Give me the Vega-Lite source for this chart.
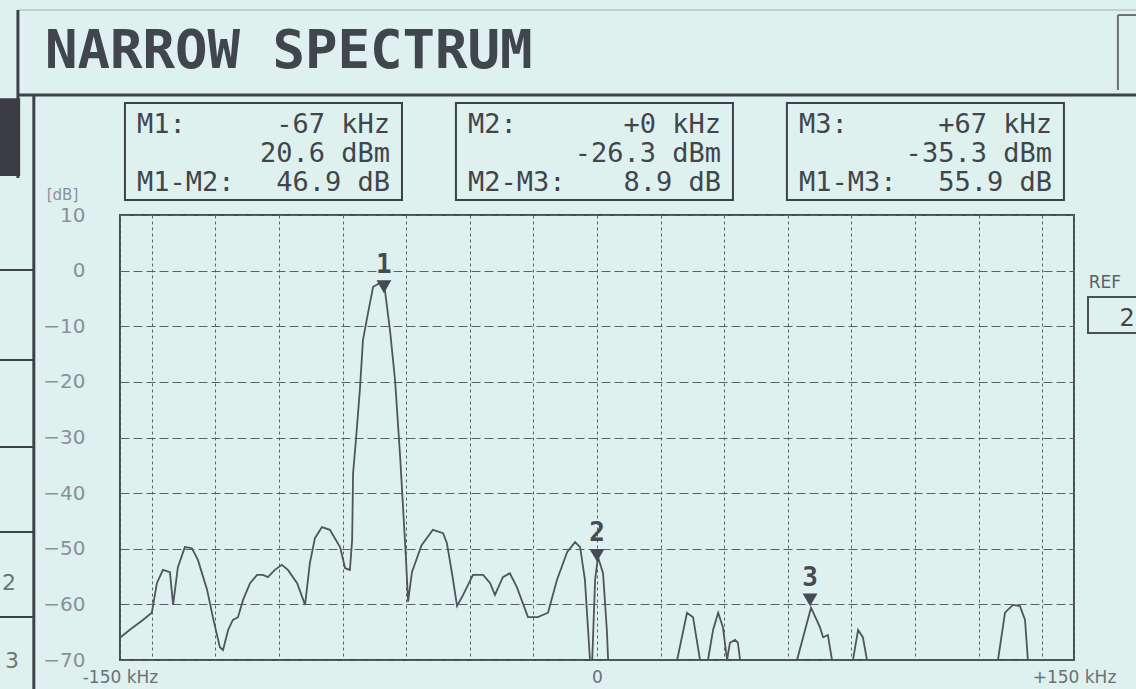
{
  "$schema": "https://vega.github.io/schema/vega-lite/v6.json",
  "width": 954,
  "height": 445,
  "autosize": {"type": "none"},
  "padding": {"left": 120, "top": 215, "right": 62, "bottom": 29},
  "background": "#dff1ef",
  "config": {
    "view": {"stroke": "#474b52", "strokeWidth": 2, "fill": "#dff1ef"}
  },
  "datasets": {
    "trace": [
      {"khz": -150, "db": -66},
      {"khz": -147, "db": -64.6},
      {"khz": -142.8, "db": -62.8},
      {"khz": -140, "db": -61.5},
      {"khz": -138.4, "db": -56.2},
      {"khz": -136.5, "db": -53.8},
      {"khz": -134.3, "db": -54.2},
      {"khz": -133.3, "db": -60.1},
      {"khz": -131.8, "db": -53.3},
      {"khz": -129.6, "db": -49.7},
      {"khz": -127.4, "db": -49.9},
      {"khz": -125.5, "db": -52.0},
      {"khz": -122.6, "db": -57.4},
      {"khz": -120.8, "db": -62.3},
      {"khz": -118.6, "db": -67.7},
      {"khz": -117.6, "db": -68.2},
      {"khz": -116, "db": -64.6},
      {"khz": -114.5, "db": -62.8},
      {"khz": -112.9, "db": -62.3},
      {"khz": -111.3, "db": -59.2},
      {"khz": -109.1, "db": -56.2},
      {"khz": -106.9, "db": -54.7},
      {"khz": -105, "db": -54.7},
      {"khz": -103.5, "db": -55.1},
      {"khz": -101.3, "db": -53.8},
      {"khz": -99.1, "db": -52.9},
      {"khz": -97.2, "db": -53.8},
      {"khz": -94.3, "db": -56.2},
      {"khz": -91.8, "db": -60.1},
      {"khz": -90.3, "db": -52.6},
      {"khz": -88.7, "db": -48.1},
      {"khz": -86.5, "db": -46.1},
      {"khz": -84.0, "db": -46.6},
      {"khz": -80.8, "db": -49.7},
      {"khz": -79.2, "db": -53.5},
      {"khz": -77.7, "db": -53.8},
      {"khz": -77.0, "db": -48.4},
      {"khz": -76.7, "db": -36.4},
      {"khz": -75.8, "db": -30.4},
      {"khz": -74.5, "db": -20.9},
      {"khz": -73.6, "db": -12.5},
      {"khz": -72.0, "db": -7.6},
      {"khz": -70.4, "db": -2.9},
      {"khz": -68.2, "db": -2.2},
      {"khz": -66.7, "db": -3.5},
      {"khz": -65.1, "db": -10.7},
      {"khz": -63.5, "db": -19.7},
      {"khz": -61.9, "db": -33.5},
      {"khz": -61.0, "db": -42.5},
      {"khz": -60.1, "db": -51.5},
      {"khz": -59.4, "db": -59.5},
      {"khz": -58.2, "db": -54.2},
      {"khz": -55.2, "db": -49.4},
      {"khz": -51.6, "db": -46.6},
      {"khz": -48.4, "db": -47.2},
      {"khz": -47.2, "db": -49.0},
      {"khz": -45.6, "db": -54.4},
      {"khz": -44.0, "db": -60.3},
      {"khz": -42.1, "db": -58.3},
      {"khz": -39.0, "db": -54.7},
      {"khz": -35.8, "db": -54.7},
      {"khz": -33.6, "db": -56.2},
      {"khz": -32.1, "db": -58.3},
      {"khz": -29.6, "db": -55.1},
      {"khz": -27.4, "db": -54.4},
      {"khz": -25.2, "db": -56.9},
      {"khz": -21.7, "db": -62.3},
      {"khz": -18.6, "db": -62.3},
      {"khz": -15.4, "db": -61.5},
      {"khz": -12.6, "db": -55.6},
      {"khz": -9.4, "db": -50.6},
      {"khz": -6.9, "db": -48.8},
      {"khz": -5.3, "db": -49.7},
      {"khz": -3.8, "db": -55.6},
      {"khz": -2.2, "db": -70},
      {"khz": -1.5, "db": -70},
      {"khz": -0.6, "db": -55.6},
      {"khz": 0.3, "db": -51.5},
      {"khz": 1.9, "db": -54.4},
      {"khz": 3.1, "db": -64.6},
      {"khz": 3.5, "db": -70},
      {"khz": 25.2, "db": -70},
      {"khz": 28.3, "db": -61.5},
      {"khz": 30.2, "db": -62.3},
      {"khz": 32.4, "db": -70},
      {"khz": 34.9, "db": -70},
      {"khz": 36.5, "db": -64.6},
      {"khz": 38.1, "db": -61.5},
      {"khz": 39.6, "db": -64.1},
      {"khz": 40.9, "db": -70},
      {"khz": 41.8, "db": -66.9},
      {"khz": 43.4, "db": -66.4},
      {"khz": 44.3, "db": -66.9},
      {"khz": 45.0, "db": -70},
      {"khz": 62.9, "db": -70},
      {"khz": 67.3, "db": -60.6},
      {"khz": 70.1, "db": -64.1},
      {"khz": 71.1, "db": -65.9},
      {"khz": 72.6, "db": -65.5},
      {"khz": 73.9, "db": -70},
      {"khz": 80.5, "db": -70},
      {"khz": 82.1, "db": -64.6},
      {"khz": 83.6, "db": -65.9},
      {"khz": 84.9, "db": -70},
      {"khz": 126.1, "db": -70},
      {"khz": 128.3, "db": -61.5},
      {"khz": 130.8, "db": -60.1},
      {"khz": 133, "db": -60.3},
      {"khz": 134.6, "db": -62.8},
      {"khz": 135.5, "db": -70},
      {"khz": 150, "db": -70}
    ],
    "markers": [
      {"id": "1", "khz": -67, "db": -2.9},
      {"id": "2", "khz": 0, "db": -51.2},
      {"id": "3", "khz": 67, "db": -59.2}
    ],
    "readouts": [
      {"marker": "M1", "tag": "M1:", "freq": "-67 kHz", "level": "20.6 dBm", "pair": "M1-M2:", "delta": "46.9 dB"},
      {"marker": "M2", "tag": "M2:", "freq": "+0 kHz", "level": "-26.3 dBm", "pair": "M2-M3:", "delta": "8.9 dB"},
      {"marker": "M3", "tag": "M3:", "freq": "+67 kHz", "level": "-35.3 dBm", "pair": "M1-M3:", "delta": "55.9 dB"}
    ]
  },
  "layer": [
    {
      "layer": [
        {
          "data": {"name": "trace"},
          "mark": {"type": "line", "color": "#50545b", "strokeWidth": 1.8},
          "encoding": {
            "x": {
              "field": "khz",
              "type": "quantitative",
              "scale": {"domain": [-150, 150], "nice": false, "zero": false},
              "axis": {
                "title": null,
                "values": [-150, -140, -120, -100, -80, -60, -40, -20, 0, 20, 40, 60, 80, 100, 120, 140, 150],
                "labelExpr": "datum.value == -150 ? '-150 kHz' : datum.value == 150 ? '+150 kHz' : datum.value == 0 ? '0' : ''",
                "labelFont": "DejaVu Sans",
                "labelFontSize": 17,
                "labelColor": "#6b7077",
                "labelPadding": 9,
                "labelBaseline": "top",
                "labelFlush": false,
                "labelOverlap": false,
                "ticks": false,
                "domain": false,
                "grid": true,
                "gridColor": "#5a6067",
                "gridDash": [3, 3],
                "gridWidth": 1
              }
            },
            "y": {
              "field": "db",
              "type": "quantitative",
              "scale": {"domain": [-70, 10], "nice": false, "zero": false},
              "axis": {
                "title": "[dB]",
                "titleAngle": 0,
                "titleX": -58,
                "titleY": -16,
                "titleAlign": "center",
                "titleBaseline": "alphabetic",
                "titleFont": "DejaVu Sans",
                "titleFontSize": 15,
                "titleFontWeight": "normal",
                "titleColor": "#8a9097",
                "values": [-70, -60, -50, -40, -30, -20, -10, 0, 10],
                "labelFont": "DejaVu Sans",
                "labelFontSize": 20,
                "labelColor": "#8a9097",
                "labelPadding": 35,
                "labelFlush": false,
                "labelOverlap": false,
                "ticks": false,
                "domain": false,
                "grid": true,
                "gridColor": "#5a6067",
                "gridDash": [9, 4],
                "gridWidth": 1
              }
            }
          }
        },
        {
          "data": {"name": "markers"},
          "mark": {"type": "point", "shape": "triangle-down", "filled": true, "size": 220, "color": "#464a51", "opacity": 1},
          "encoding": {
            "x": {"field": "khz", "type": "quantitative"},
            "y": {"field": "db", "type": "quantitative"}
          }
        },
        {
          "data": {"name": "markers"},
          "mark": {"type": "text", "font": "DejaVu Sans Mono", "fontSize": 26, "fontWeight": "bold", "color": "#464a51", "dy": -22, "baseline": "middle"},
          "encoding": {
            "x": {"field": "khz", "type": "quantitative"},
            "y": {"field": "db", "type": "quantitative"},
            "text": {"field": "id"}
          }
        },
        {
          "data": {"values": [{}]},
          "mark": {"type": "text", "font": "DejaVu Sans Mono", "fontSize": 54, "fontWeight": "bold", "color": "#41454c", "align": "left", "baseline": "alphabetic"},
          "encoding": {"x": {"datum": -173.6}, "y": {"datum": 36.43}, "text": {"value": "NARROW SPECTRUM"}}
        },
        {
          "data": {"values": [{}]},
          "mark": {"type": "rule", "color": "#b7c4c4", "strokeWidth": 1.5},
          "encoding": {"x": {"datum": -182.1}, "x2": {"datum": 170}, "y": {"datum": 46.85}}
        },
        {
          "data": {"values": [{}]},
          "mark": {"type": "rule", "color": "#3d4149", "strokeWidth": 3},
          "encoding": {"x": {"datum": -182.1}, "x2": {"datum": 170}, "y": {"datum": 31.57}}
        },
        {
          "data": {"values": [{}]},
          "mark": {"type": "rule", "color": "#3d4149", "strokeWidth": 3},
          "encoding": {"x": {"datum": -182.1}, "y": {"datum": 46.85}, "y2": {"datum": 16.65}}
        },
        {
          "data": {"values": [{}]},
          "mark": {"type": "rule", "color": "#3d4149", "strokeWidth": 3},
          "encoding": {"x": {"datum": -177.1}, "y": {"datum": 31.57}, "y2": {"datum": -76}}
        },
        {
          "data": {"values": [{}]},
          "mark": {"type": "rect", "color": "#3b3d42"},
          "encoding": {"x": {"datum": -188}, "x2": {"datum": -181.4}, "y": {"datum": 31.0}, "y2": {"datum": 17.0}}
        },
        {
          "data": {"values": [{}]},
          "mark": {"type": "rule", "color": "#3d4149", "strokeWidth": 2},
          "encoding": {"x": {"datum": -188}, "x2": {"datum": -177.1}, "y": {"datum": 0.11}}
        },
        {
          "data": {"values": [{}]},
          "mark": {"type": "rule", "color": "#3d4149", "strokeWidth": 2},
          "encoding": {"x": {"datum": -188}, "x2": {"datum": -177.1}, "y": {"datum": -16.07}}
        },
        {
          "data": {"values": [{}]},
          "mark": {"type": "rule", "color": "#3d4149", "strokeWidth": 2},
          "encoding": {"x": {"datum": -188}, "x2": {"datum": -177.1}, "y": {"datum": -31.71}}
        },
        {
          "data": {"values": [{}]},
          "mark": {"type": "rule", "color": "#3d4149", "strokeWidth": 2},
          "encoding": {"x": {"datum": -188}, "x2": {"datum": -177.1}, "y": {"datum": -46.99}}
        },
        {
          "data": {"values": [{}]},
          "mark": {"type": "rule", "color": "#3d4149", "strokeWidth": 2},
          "encoding": {"x": {"datum": -188}, "x2": {"datum": -177.1}, "y": {"datum": -62.28}}
        },
        {
          "data": {"values": [{}]},
          "mark": {"type": "text", "font": "DejaVu Sans", "fontSize": 22, "color": "#6f7378", "align": "left", "baseline": "alphabetic"},
          "encoding": {"x": {"datum": -187.1}, "y": {"datum": -57.4}, "text": {"value": "2"}}
        },
        {
          "data": {"values": [{}]},
          "mark": {"type": "text", "font": "DejaVu Sans", "fontSize": 22, "color": "#6f7378", "align": "left", "baseline": "alphabetic"},
          "encoding": {"x": {"datum": -186.2}, "y": {"datum": -71.4}, "text": {"value": "3"}}
        },
        {
          "data": {"values": [{}]},
          "mark": {"type": "rule", "color": "#6b7075", "strokeWidth": 2},
          "encoding": {"x": {"datum": 163.8}, "y": {"datum": 45.95}, "y2": {"datum": 32.47}}
        },
        {
          "data": {"values": [{}]},
          "mark": {"type": "rule", "color": "#6b7075", "strokeWidth": 2},
          "encoding": {"x": {"datum": 163.8}, "x2": {"datum": 171}, "y": {"datum": 45.95}}
        },
        {
          "data": {"values": [{}]},
          "mark": {"type": "text", "font": "DejaVu Sans", "fontSize": 17, "color": "#5b6068", "align": "left", "baseline": "alphabetic"},
          "encoding": {"x": {"datum": 154.6}, "y": {"datum": -3.1}, "text": {"value": "REF"}}
        },
        {
          "data": {"values": [{}]},
          "mark": {"type": "rect", "fill": "#dff1ef", "stroke": "#4a4e55", "strokeWidth": 2},
          "encoding": {"x": {"datum": 154.4}, "x2": {"datum": 172}, "y": {"datum": -4.74}, "y2": {"datum": -11.2}}
        },
        {
          "data": {"values": [{}]},
          "mark": {"type": "text", "font": "DejaVu Sans", "fontSize": 24, "color": "#41454c", "align": "right", "baseline": "alphabetic"},
          "encoding": {"x": {"datum": 169.1}, "y": {"datum": -10.0}, "text": {"value": "2"}}
        }
      ]
    },
    {
      "data": {"name": "readouts"},
      "encoding": {
        "x": {
          "field": "marker",
          "type": "nominal",
          "scale": {"type": "band", "paddingInner": 0.163, "paddingOuter": 0.0227, "align": 0.33},
          "axis": null
        }
      },
      "layer": [
        {
          "mark": {"type": "bar", "fill": "#dff1ef", "fillOpacity": 0, "stroke": "#3d4149", "strokeWidth": 2},
          "encoding": {"y": {"datum": 30.13}, "y2": {"datum": 12.7}}
        },
        {
          "mark": {"type": "text", "font": "DejaVu Sans Mono", "fontSize": 27, "color": "#41454c", "align": "left", "baseline": "alphabetic", "dx": 12},
          "encoding": {"x": {"field": "marker", "type": "nominal", "bandPosition": 0}, "y": {"datum": 24.74}, "text": {"field": "tag"}}
        },
        {
          "mark": {"type": "text", "font": "DejaVu Sans Mono", "fontSize": 27, "color": "#41454c", "align": "right", "baseline": "alphabetic", "dx": -12},
          "encoding": {"x": {"field": "marker", "type": "nominal", "bandPosition": 1}, "y": {"datum": 24.74}, "text": {"field": "freq"}}
        },
        {
          "mark": {"type": "text", "font": "DejaVu Sans Mono", "fontSize": 27, "color": "#41454c", "align": "right", "baseline": "alphabetic", "dx": -12},
          "encoding": {"x": {"field": "marker", "type": "nominal", "bandPosition": 1}, "y": {"datum": 19.53}, "text": {"field": "level"}}
        },
        {
          "mark": {"type": "text", "font": "DejaVu Sans Mono", "fontSize": 27, "color": "#41454c", "align": "left", "baseline": "alphabetic", "dx": 12},
          "encoding": {"x": {"field": "marker", "type": "nominal", "bandPosition": 0}, "y": {"datum": 14.31}, "text": {"field": "pair"}}
        },
        {
          "mark": {"type": "text", "font": "DejaVu Sans Mono", "fontSize": 27, "color": "#41454c", "align": "right", "baseline": "alphabetic", "dx": -12},
          "encoding": {"x": {"field": "marker", "type": "nominal", "bandPosition": 1}, "y": {"datum": 14.31}, "text": {"field": "delta"}}
        }
      ]
    }
  ],
  "resolve": {"scale": {"x": "independent"}}
}
